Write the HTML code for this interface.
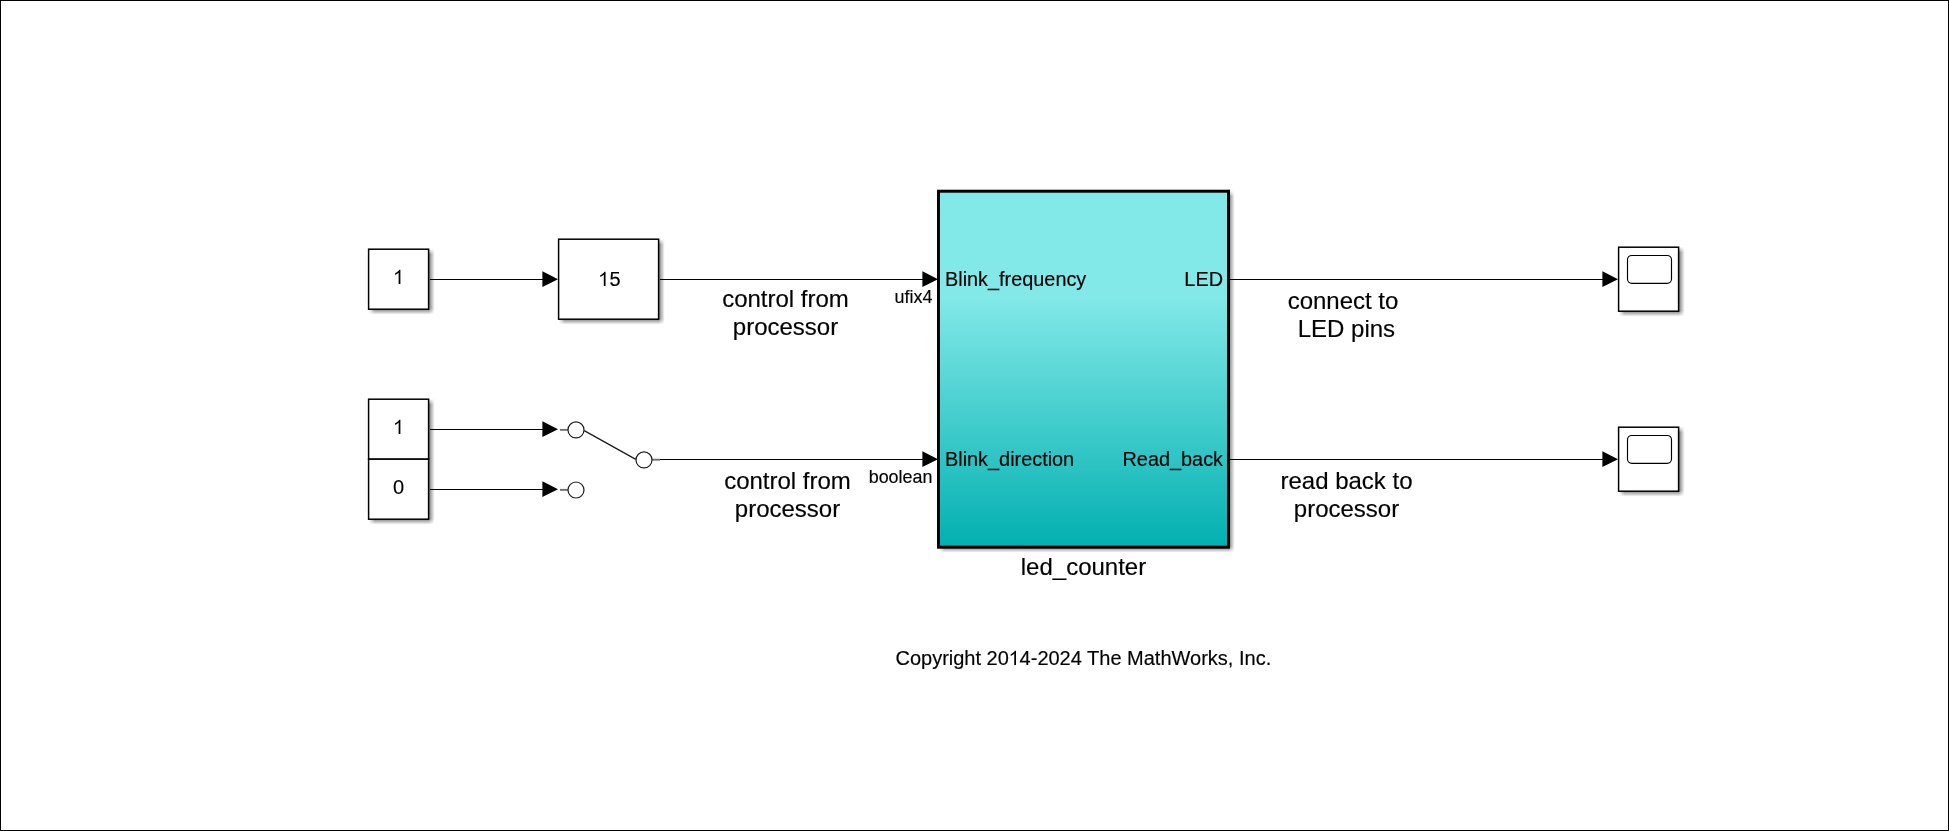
<!DOCTYPE html>
<html>
<head>
<meta charset="utf-8">
<title>led_counter model</title>
<style>
  html, body { margin: 0; padding: 0; background: #ffffff; }
  body { width: 1949px; height: 831px; overflow: hidden; position: relative;
         font-family: "Liberation Sans", sans-serif; }
  svg { position: absolute; left: 0; top: 0; display: block; }
  text { font-family: "Liberation Sans", sans-serif; fill: #000; stroke: #000; stroke-width: 0.17px; stroke-linejoin: round; }
  .txt { opacity: 0.999; }
  .t24 { font-size: 24px; }
  .t20 { font-size: 20px; }
  .t18 { font-size: 17.9px; }
  .tp { font-size: 19.88px; }
  .mid { text-anchor: middle; }
  .end { text-anchor: end; }
  .blk { fill: #ffffff; stroke: #000000; stroke-width: 1.5; }
  .ln  { stroke: #000000; stroke-width: 1; fill: none; }
  .ah  { fill: #000000; stroke: none; }
</style>
</head>
<body>
<svg width="1949" height="831" viewBox="0 0 1949 831">
  <defs>
    <filter id="sh" x="-15%" y="-15%" width="130%" height="130%">
      <feConvolveMatrix order="6" divisor="36" edgeMode="none" preserveAlpha="false"
        kernelMatrix="1 1 1 1 1 1  1 1 1 1 1 1  1 1 1 1 1 1  1 1 1 1 1 1  1 1 1 1 1 1  1 1 1 1 1 1"/>
    </filter>
    <linearGradient id="cy" x1="0" y1="0" x2="0" y2="1">
      <stop offset="0" stop-color="#82e8e8"/>
      <stop offset="0.30" stop-color="#82e8e8"/>
      <stop offset="1" stop-color="#02b0b0"/>
    </linearGradient>
  </defs>

  <!-- outer frame -->
  <rect x="0.5" y="0.5" width="1948" height="830" fill="#ffffff" stroke="#000000" stroke-width="1"/>

  <!-- drop shadows -->
  <g fill="#000" fill-opacity="0.52">
    <rect x="371.20" y="251.10" width="60" height="60" filter="url(#sh)"/>
    <rect x="561.20" y="241.10" width="100" height="80" filter="url(#sh)"/>
    <rect x="371.20" y="401.10" width="60" height="120" filter="url(#sh)"/>
    <rect x="941.15" y="193.10" width="290" height="356" filter="url(#sh)"/>
    <rect x="1621.20" y="249.10" width="60" height="64" filter="url(#sh)"/>
    <rect x="1621.20" y="429.10" width="60" height="64" filter="url(#sh)"/>
  </g>

  <!-- signal lines -->
  <path class="ln" d="M430 279.5 H544"/>
  <path class="ln" d="M660 279.5 H924"/>
  <path class="ln" d="M1230 279.5 H1604"/>
  <path class="ln" d="M430 429.5 H544"/>
  <path class="ln" d="M430 489.5 H544"/>
  <path class="ln" d="M659 459.5 H924"/>
  <path class="ln" d="M1230 459.5 H1604"/>

  <!-- arrowheads -->
  <path class="ah" d="M542.4 271.35 L558.0 279.15 L542.4 286.95 Z"/>
  <path class="ah" d="M922.4 271.35 L938.0 279.15 L922.4 286.95 Z"/>
  <path class="ah" d="M1602.4 271.35 L1618.0 279.15 L1602.4 286.95 Z"/>
  <path class="ah" d="M542.4 421.35 L558.0 429.15 L542.4 436.95 Z"/>
  <path class="ah" d="M542.4 481.35 L558.0 489.15 L542.4 496.95 Z"/>
  <path class="ah" d="M922.4 451.35 L938.0 459.15 L922.4 466.95 Z"/>
  <path class="ah" d="M1602.4 451.35 L1618.0 459.15 L1602.4 466.95 Z"/>

  <!-- constant 1 (top) -->
  <rect class="blk" x="368.6" y="249.2" width="60" height="60"/>

  <!-- gain 15 -->
  <rect class="blk" x="558.6" y="239.2" width="100" height="80"/>

  <!-- constants 1 / 0 (bottom) -->
  <rect class="blk" x="368.6" y="399.2" width="60" height="60"/>
  <rect class="blk" x="368.6" y="459.2" width="60" height="60"/>

  <!-- manual switch -->
  <g fill="none" stroke="#707070" stroke-width="1.9">
    <path d="M560 429.85 H568"/>
    <path d="M560 489.85 H568"/>
    <path d="M652 459.7 H660"/>
  </g>
  <path d="M584.2 430.6 L635.8 459.4" fill="none" stroke="#1a1a1a" stroke-width="1.25"/>
  <g stroke="#1e1e1e" stroke-width="1.2" fill="#fff">
    <circle cx="576" cy="429.9" r="8"/>
    <circle cx="576" cy="490" r="8"/>
    <circle cx="644" cy="459.9" r="8"/>
  </g>

  <!-- led_counter subsystem -->
  <rect x="938.5" y="191.2" width="290" height="356" fill="url(#cy)" stroke="#000" stroke-width="3"/>

  <!-- scopes -->
  <rect class="blk" x="1618.6" y="247.2" width="60" height="64"/>
  <rect x="1627.5" y="255.5" width="44" height="27.9" rx="4.3" ry="4.3" fill="#fff" stroke="#000" stroke-width="1.15"/>
  <rect class="blk" x="1618.6" y="427.2" width="60" height="64"/>
  <rect x="1627.5" y="435.5" width="44" height="27.9" rx="4.3" ry="4.3" fill="#fff" stroke="#000" stroke-width="1.15"/>


  <!-- all text -->
  <g class="txt">
    <path d="M763 0H583V1147Q518 1085 412.5 1023Q307 961 223 930V1104Q374 1175 487 1276Q600 1377 647 1472H763Z" transform="translate(392.94 284.00) scale(0.0097656 -0.0097656)" fill="#000"/>
    <path d="M763 0H583V1147Q518 1085 412.5 1023Q307 961 223 930V1104Q374 1175 487 1276Q600 1377 647 1472H763Z" transform="translate(598.10 286.00) scale(0.0097656 -0.0097656)" fill="#000"/>
    <text class="t20" x="609.4" y="286">5</text>
    <path d="M763 0H583V1147Q518 1085 412.5 1023Q307 961 223 930V1104Q374 1175 487 1276Q600 1377 647 1472H763Z" transform="translate(392.94 434.00) scale(0.0097656 -0.0097656)" fill="#000"/>
    <text class="t20 mid" x="398.5" y="494">0</text>
    <text class="tp" x="945" y="286.2">Blink_frequency</text>
    <text class="tp end" x="1223" y="286.2">LED</text>
    <text class="tp" x="945" y="466.2">Blink_direction</text>
    <text class="tp end" x="1223" y="466.2">Read_back</text>
    <text class="t24 mid" x="1083.5" y="575.15">led_counter</text>
    <text class="t18 end" x="932.4" y="303.2">ufix4</text>
    <text class="t18 end" x="932.4" y="483.2">boolean</text>
    <text class="t24 mid" x="785.5" y="307.15">control from</text>
    <text class="t24 mid" x="785.5" y="335.15">processor</text>
    <text class="t24 mid" x="787.5" y="489.15">control from</text>
    <text class="t24 mid" x="787.5" y="517.15">processor</text>
    <text class="t24 mid" x="1343" y="309.15">connect to</text>
    <text class="t24 mid" x="1346.4" y="337.15">LED pins</text>
    <text class="t24 mid" x="1346.5" y="489.15">read back to</text>
    <text class="t24 mid" x="1346.5" y="517.15">processor</text>
    <text class="t20" x="895.44" y="665">Copyright 20</text>
    <path d="M763 0H583V1147Q518 1085 412.5 1023Q307 961 223 930V1104Q374 1175 487 1276Q600 1377 647 1472H763Z" transform="translate(1008.55 665) scale(0.0097656 -0.0097656)" fill="#000"/>
    <text class="t20" x="1019.6" y="665">4-2024 The MathWorks, Inc.</text>
  </g>
</svg>
</body>
</html>
